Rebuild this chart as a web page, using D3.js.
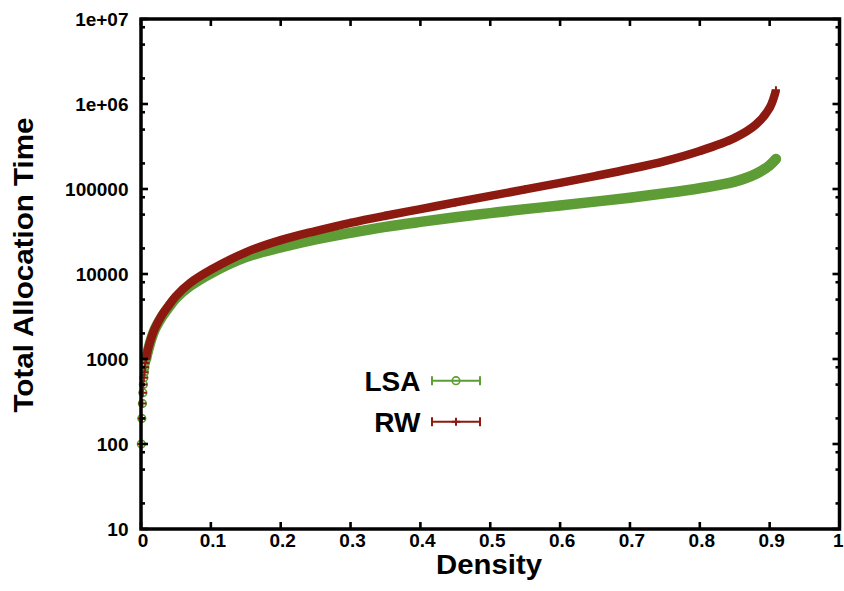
<!DOCTYPE html>
<html><head><meta charset="utf-8">
<script src="https://cdn.jsdelivr.net/npm/d3@7"></script>
<style>html,body{margin:0;padding:0;background:#fff;} text{font-family:"Liberation Sans",Arial,sans-serif;font-weight:bold;}</style>
</head><body>
<svg id="chart" width="844" height="591"></svg>
<script>
// ---- data ----
const densityLSA = [0.0005,0.0012,0.002,0.0027,0.0034,0.0041,0.0049,0.0056,0.0064,0.0072,
  0.01,0.015,0.02,0.03,0.04,0.05,0.07,0.1,0.15,0.2,0.25,0.3,0.35,0.4,0.45,0.5,0.55,0.6,0.65,0.7,0.75,0.8,0.85,0.88,0.9,0.909];
const timeLSA = [100,200,300,400,500,600,700,800,900,1000,
  1250,1750,2250,3150,4100,5200,7200,10200,15800,20500,25500,30500,35800,41000,46500,52000,58000,64000,71000,79000,89000,102000,122000,150000,190000,225000];
const densityRW = [0.0005,0.0012,0.002,0.0027,0.0034,0.0041,0.0049,0.0056,0.0064,0.0072,
  0.01,0.015,0.02,0.03,0.04,0.05,0.07,0.1,0.15,0.2,0.25,0.3,0.35,0.4,0.45,0.5,0.55,0.6,0.65,0.7,0.75,0.8,0.85,0.88,0.9,0.909];
const timeRW = [100,200,300,400,500,600,700,800,900,1000,
  1300,1800,2300,3300,4300,5500,7800,11200,18000,25000,32000,40000,48500,58000,69500,83000,99000,118000,142000,172000,213000,280000,400000,570000,900000,1450000];
const xTickValues = [0,0.1,0.2,0.3,0.4,0.5,0.6,0.7,0.8,0.9,1];
const xTickLabels = ["0","0.1","0.2","0.3","0.4","0.5","0.6","0.7","0.8","0.9","1"];
const yTickValues = [10,100,1000,10000,100000,1000000,10000000];
const yTickLabels = ["10","100","1000","10000","100000","1e+06","1e+07"];
const yMinorValues = [20,50,80,200,500,800,2000,5000,8000,20000,50000,80000,200000,500000,800000,2000000,5000000,8000000];
const seriesNames = ["LSA","RW"];
const colors = {LSA:"#5e9c36", RW:"#8c1a10"};

// ---- layout ----
const L=141, R=839.5, T=19, B=529;
const svg = d3.select("#chart");
const x = d3.scaleLinear().domain([0,1]).range([L,R]);
const y = d3.scaleLog().domain([10,1e7]).range([B,T]);

const lsa = densityLSA.map((d,i)=>({d, t:timeLSA[i]}));
const rw = densityRW.map((d,i)=>({d, t:timeRW[i]}));

const line = d3.line().x(p=>x(p.d)).y(p=>y(p.t)).curve(d3.curveCatmullRom.alpha(0.5));
const gData = svg.append("g");

// LSA band + circles
gData.append("path").datum(lsa.filter(p=>p.t>=1000)).attr("d",line)
  .attr("fill","none").attr("stroke",colors.LSA).attr("stroke-width",10.5).attr("stroke-linecap","round").attr("stroke-linejoin","round");
gData.selectAll("circle.lsa").data(lsa).join("circle").attr("class","lsa")
  .attr("cx",p=>x(p.d)).attr("cy",p=>y(p.t)).attr("r",3.8)
  .attr("fill","none").attr("stroke",colors.LSA).attr("stroke-width",1.6);

// RW band + pluses
gData.append("path").datum(rw.filter(p=>p.t>=1000)).attr("d",line)
  .attr("fill","none").attr("stroke",colors.RW).attr("stroke-width",8.5).attr("stroke-linecap","butt").attr("stroke-linejoin","round");
gData.selectAll("path.rw").data(rw).join("path").attr("class","rw")
  .attr("transform",p=>`translate(${x(p.d)},${y(p.t)})`)
  .attr("d","M-4,0H4M0,-4V4").attr("fill","none").attr("stroke",colors.RW).attr("stroke-width",2);

// ---- frame & ticks ----
const axG = svg.append("g").attr("stroke","#000");
axG.append("rect").attr("x",L).attr("y",T).attr("width",R-L).attr("height",B-T)
  .attr("fill","none").attr("stroke-width",3.5);
const tickW = 2.6;
xTickValues.forEach(v=>{
  axG.append("line").attr("x1",x(v)).attr("x2",x(v)).attr("y1",B).attr("y2",B-7).attr("stroke-width",tickW);
  axG.append("line").attr("x1",x(v)).attr("x2",x(v)).attr("y1",T).attr("y2",T+7).attr("stroke-width",tickW);
});
yTickValues.forEach(v=>{
  axG.append("line").attr("x1",L).attr("x2",L+7).attr("y1",y(v)).attr("y2",y(v)).attr("stroke-width",tickW);
  axG.append("line").attr("x1",R).attr("x2",R-7).attr("y1",y(v)).attr("y2",y(v)).attr("stroke-width",tickW);
});
yMinorValues.forEach(v=>{
  axG.append("line").attr("x1",L).attr("x2",L+4).attr("y1",y(v)).attr("y2",y(v)).attr("stroke-width",tickW);
  axG.append("line").attr("x1",R).attr("x2",R-4).attr("y1",y(v)).attr("y2",y(v)).attr("stroke-width",tickW);
});

// tick labels
const tl = svg.append("g").attr("font-size",19).attr("fill","#000");
xTickValues.forEach((v,i)=>{
  const last = i===xTickValues.length-1;
  tl.append("text").attr("x",last?843.5:x(v)+2).attr("y",B+18)
    .attr("text-anchor",last?"end":"middle").text(xTickLabels[i]);
});
yTickValues.forEach((v,i)=>{
  tl.append("text").attr("x",L-12.5).attr("y",y(v)+7).attr("text-anchor","end").text(yTickLabels[i]);
});

// axis titles
svg.append("text").attr("x",489).attr("y",574).attr("text-anchor","middle").attr("font-size",28)
  .attr("textLength",106).attr("lengthAdjust","spacingAndGlyphs").text("Density");
svg.append("text").attr("transform","translate(33,265) rotate(-90)").attr("text-anchor","middle").attr("font-size",28)
  .attr("textLength",295).attr("lengthAdjust","spacingAndGlyphs").text("Total Allocation Time");

// legend
const lg = svg.append("g");
const legY = [380.7, 421.7];
seriesNames.forEach((name,i)=>{
  const yy = legY[i], c = colors[name];
  lg.append("text").attr("x",420.5).attr("y",yy+10).attr("text-anchor","end").attr("font-size",28).text(name);
  lg.append("line").attr("x1",432).attr("x2",480).attr("y1",yy).attr("y2",yy).attr("stroke",c).attr("stroke-width",2);
  lg.append("line").attr("x1",432).attr("x2",432).attr("y1",yy-4.5).attr("y2",yy+4.5).attr("stroke",c).attr("stroke-width",2);
  lg.append("line").attr("x1",480).attr("x2",480).attr("y1",yy-4.5).attr("y2",yy+4.5).attr("stroke",c).attr("stroke-width",2);
  if(name==="LSA"){
    lg.append("circle").attr("cx",456).attr("cy",yy).attr("r",3.8).attr("fill","none").attr("stroke",c).attr("stroke-width",1.6);
  } else {
    lg.append("path").attr("transform",`translate(456,${yy})`).attr("d","M-4,0H4M0,-4V4").attr("fill","none").attr("stroke",c).attr("stroke-width",2);
  }
});
</script>
</body></html>
